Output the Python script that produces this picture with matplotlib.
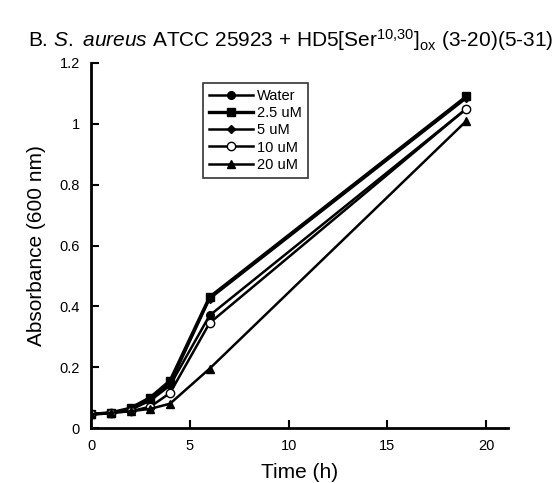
import matplotlib
matplotlib.use("Agg")
import matplotlib.pyplot as plt

plt.rcParams['font.family'] = ['Liberation Sans', 'DejaVu Sans']
plt.rcParams['mathtext.fontset'] = 'custom'
plt.rcParams['mathtext.rm'] = 'Liberation Sans'
plt.rcParams['mathtext.it'] = 'Liberation Sans:italic'

# time points (h)
time_h = [0, 1, 2, 3, 4, 6, 19]

# absorbance at 600 nm for each treatment
water = [0.045, 0.05, 0.06, 0.09, 0.14, 0.37, 1.05]
uM_2_5 = [0.045, 0.05, 0.065, 0.10, 0.155, 0.43, 1.09]
uM_5 = [0.045, 0.05, 0.06, 0.095, 0.145, 0.425, 1.085]
uM_10 = [0.045, 0.05, 0.055, 0.07, 0.115, 0.345, 1.05]
uM_20 = [0.045, 0.05, 0.055, 0.063, 0.08, 0.195, 1.01]

labels = ["Water", "2.5 uM", "5 uM", "10 uM", "20 uM"]

fig = plt.figure(figsize=(5.56, 4.83), dpi=100)
ax = fig.add_axes([91/556, 1 - 428/483, (508-91)/556, (428-63)/483])

ax.plot(time_h, water, color='black', lw=1.8, marker='o', ms=5.5, label=labels[0])
ax.plot(time_h, uM_2_5, color='black', lw=2.4, marker='s', ms=6, label=labels[1])
ax.plot(time_h, uM_5, color='black', lw=1.8, marker='D', ms=4.5, label=labels[2])
ax.plot(time_h, uM_10, color='black', lw=1.8, marker='o', ms=6, mfc='white', mew=1, label=labels[3])
ax.plot(time_h, uM_20, color='black', lw=1.8, marker='^', ms=5.5, label=labels[4])

ax.set_xlim(0, 21.1)
ax.set_ylim(0, 1.2)
ax.set_xticks([0, 5, 10, 15, 20])
ax.set_yticks([0, 0.2, 0.4, 0.6, 0.8, 1.0, 1.2])
ax.set_yticklabels(['0', '0.2', '0.4', '0.6', '0.8', '1', '1.2'])
ax.tick_params(direction='in', length=6, width=1.5, labelsize=10.5)
ax.tick_params(axis='x', pad=8)
ax.tick_params(axis='y', pad=8)
for s in ['top', 'right']:
    ax.spines[s].set_visible(False)
for s in ['left', 'bottom']:
    ax.spines[s].set_linewidth(2)

ax.set_xlabel('Time (h)', fontsize=15, labelpad=7)
ax.set_ylabel('Absorbance (600 nm)', fontsize=15, labelpad=10)

leg = ax.legend(loc='upper left', bbox_to_anchor=(0.269, 0.945), fontsize=10.5,
                frameon=True, fancybox=False, edgecolor='black', handlelength=3,
                handletextpad=0.3, labelspacing=0.22, borderpad=0.4,
                borderaxespad=0)
leg.get_frame().set_linewidth(1.2)

fig.text(0.522, 1 - 40/483,
         r"B. $\mathit{S.}$ $\mathit{aureus}$ ATCC 25923 + HD5[Ser$^{10{,}30}$]$_{\mathrm{ox}}$ (3-20)(5-31)",
         ha='center', va='center', fontsize=15)

fig.savefig('out.png', dpi=100)
